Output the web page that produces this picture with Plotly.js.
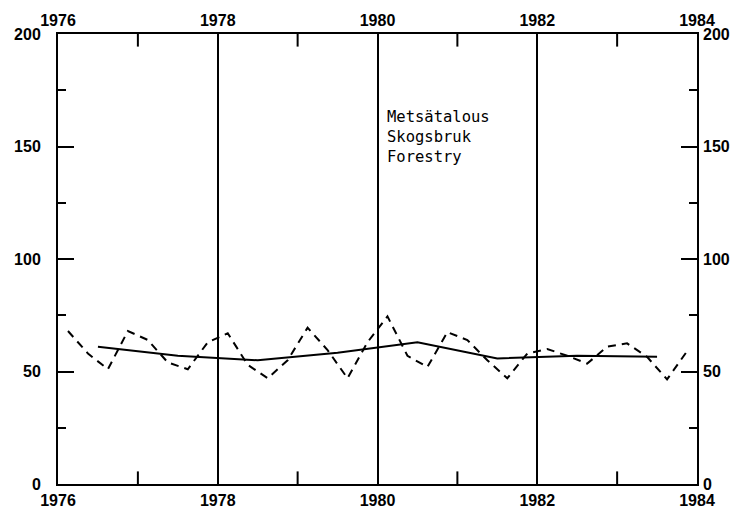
<!DOCTYPE html>
<html>
<head>
<meta charset="utf-8">
<script src="https://cdn.plot.ly/plotly-3.0.1.min.js"></script>
<style>html,body{margin:0;padding:0;background:#fff;}#chart{width:737px;height:511px;}</style>
</head>
<body>
<div id="chart"></div>
<script>
// Quarterly index (dashed), positioned at quarter mid-points
const quarterX = [
  1976.125, 1976.375, 1976.625, 1976.875,
  1977.125, 1977.375, 1977.625, 1977.875,
  1978.125, 1978.375, 1978.625, 1978.875,
  1979.125, 1979.375, 1979.625, 1979.875,
  1980.125, 1980.375, 1980.625, 1980.875,
  1981.125, 1981.375, 1981.625, 1981.875,
  1982.125, 1982.375, 1982.625, 1982.875,
  1983.125, 1983.375, 1983.625, 1983.875
];
const quarterValues = [
  68, 58, 51, 68,
  64, 54, 51, 63,
  67, 53, 47, 55,
  69.5, 59.5, 47, 63,
  74.5, 57, 52, 67.5,
  64, 55, 47, 58,
  60, 57, 53.5, 61,
  62.5, 56.5, 46.5, 59
];
// Annual trend (solid), positioned at mid-year
const yearX = [1976.5, 1977.5, 1978.5, 1979.5, 1980.5, 1981.5, 1982.5, 1983.5];
const yearValues = [61, 57, 55, 58.3, 63, 55.8, 57, 56.6];

const xRange = [1976, 1984];
const yRange = [0, 200];
const xTickVals = [1976, 1978, 1980, 1982, 1984];
const xTickText = ['1976', '1978', '1980', '1982', '1984'];
const xMinorVals = [1977, 1979, 1981, 1983];
const yTickVals = [0, 50, 100, 150, 200];
const yTickText = ['0', '50', '100', '150', '200'];
const yMinorVals = [25, 75, 125, 175];
const labelLines = ['Metsätalous', 'Skogsbruk', 'Forestry'];

const tickFont = {family: 'Liberation Sans, Arial, sans-serif', size: 16, color: '#000', weight: 'bold'};

// odd-year tick marks on the bottom and top frame edges (half-clipped line markers)
const minorTickX = xMinorVals.concat(xMinorVals);
const minorTickY = xMinorVals.map(() => yRange[0]).concat(xMinorVals.map(() => yRange[1]));

const traces = [
  {x: quarterX, y: quarterValues, type: 'scatter', mode: 'lines',
   line: {color: '#000', width: 2, dash: '8px,6px'}, hoverinfo: 'skip', showlegend: false},
  {x: yearX, y: yearValues, type: 'scatter', mode: 'lines',
   line: {color: '#000', width: 2}, hoverinfo: 'skip', showlegend: false},
  {x: minorTickX, y: minorTickY, type: 'scatter', mode: 'markers', cliponaxis: true,
   marker: {symbol: 'line-ns-open', size: 18, color: '#000', line: {width: 2, color: '#000'}},
   hoverinfo: 'skip', showlegend: false},
  {x: xRange, y: yRange, xaxis: 'x2', yaxis: 'y2', type: 'scatter', mode: 'markers',
   marker: {opacity: 0}, hoverinfo: 'skip', showlegend: false}
];

const layout = {
  width: 737, height: 511,
  margin: {l: 58, r: 40, t: 34, b: 27},
  paper_bgcolor: '#fff', plot_bgcolor: '#fff',
  xaxis: {
    range: xRange, tickvals: xTickVals, ticktext: xTickText,
    showgrid: true, gridcolor: '#000', gridwidth: 2,
    showline: true, linecolor: '#000', linewidth: 2, mirror: true,
    ticks: '', tickfont: tickFont, ticklabelstandoff: 1, zeroline: false, fixedrange: true
  },
  xaxis2: {
    range: xRange, overlaying: 'x', side: 'top', anchor: 'y2',
    tickvals: xTickVals, ticktext: xTickText, ticks: '',
    showgrid: false, showline: false,
    tickfont: tickFont, ticklabelstandoff: 4, zeroline: false, fixedrange: true
  },
  yaxis: {
    range: yRange, tickvals: yTickVals, ticktext: yTickText,
    showgrid: false, showline: true, linecolor: '#000', linewidth: 2, mirror: 'allticks',
    ticks: 'inside', ticklen: 16, tickwidth: 2, tickcolor: '#000',
    minor: {tickvals: yMinorVals, ticks: 'inside', ticklen: 8, tickwidth: 2, tickcolor: '#000', showgrid: false},
    tickfont: tickFont, ticklabelstandoff: 12, zeroline: false, fixedrange: true
  },
  yaxis2: {
    range: yRange, overlaying: 'y', side: 'right', anchor: 'x2',
    tickvals: yTickVals, ticktext: yTickText, ticks: '', showgrid: false,
    showline: false, tickfont: tickFont, ticklabelstandoff: 5, zeroline: false, fixedrange: true
  },
  annotations: [{
    x: 1980.09, y: 168, xref: 'x', yref: 'y', xanchor: 'left', yanchor: 'top',
    text: labelLines.join('<br>'), showarrow: false, align: 'left',
    font: {family: 'DejaVu Sans Mono, Liberation Mono, monospace', size: 15.5, color: '#000'}
  }],
  showlegend: false
};

Plotly.newPlot('chart', traces, layout, {displayModeBar: false, staticPlot: true});
</script>
</body>
</html>
